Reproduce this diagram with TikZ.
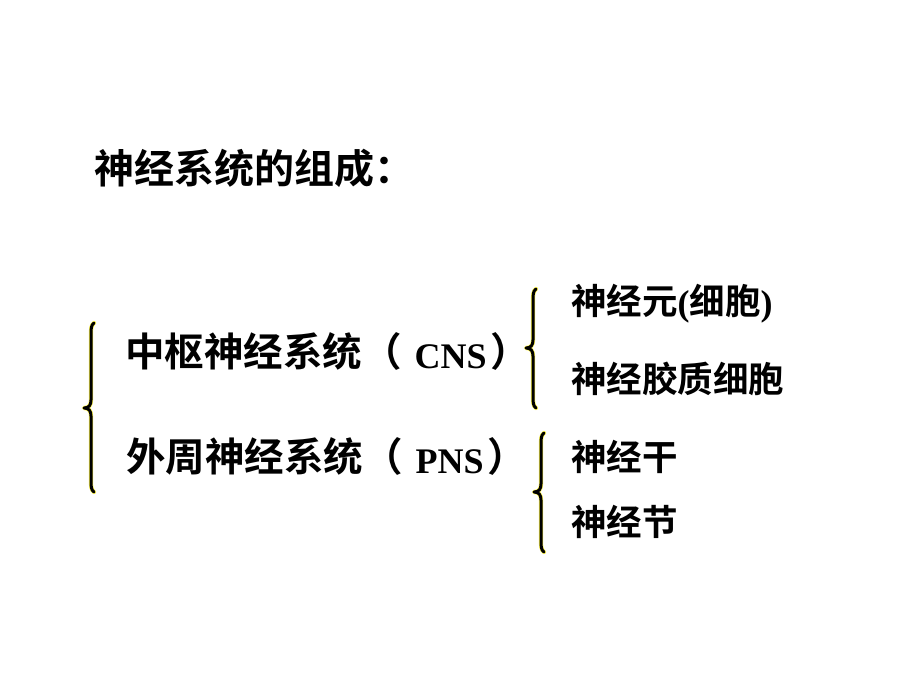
\documentclass[tikz,border=0pt]{standalone}
\usepackage{fontspec}
\setmainfont{Liberation Serif}
\newfontfamily\cjk{Noto Sans CJK SC}[BoldFont={* Bold}]
\newcommand{\lat}[1]{\hspace{13pt}\raisebox{-2pt}{\rmfamily\bfseries\fontsize{36}{38}\selectfont #1}\hspace{4pt}}
\newcommand{\slat}[1]{\raisebox{-1pt}{\rmfamily\bfseries\fontsize{36}{38}\selectfont #1}}
\tikzset{
  ttl/.style={anchor=west, inner sep=0pt, font=\cjk\bfseries\fontsize{40}{42}\selectfont},
  lbl/.style={anchor=west, inner sep=0pt, font=\cjk\bfseries\fontsize{39.5}{41}\selectfont},
  sublbl/.style={anchor=west, inner sep=0pt, font=\cjk\bfseries\fontsize{35.5}{37}\selectfont},
  bracestroke/.style={line width=3pt, line cap=round, line join=round},
  braceglow/.style={line width=4.2pt, draw=yellow!70!white, line cap=round, line join=round}
}
\newcommand{\mybrace}[4]{% x, top, bottom, middle
  \draw[braceglow] (#1+3,#2) .. controls (#1,#2+2) and (#1,#2+6) .. (#1,#2+12)
    -- (#1,#4-8) .. controls (#1,#4-3) and (#1-2,#4) .. (#1-7,#4)
    .. controls (#1-2,#4) and (#1,#4+3) .. (#1,#4+8)
    -- (#1,#3-12) .. controls (#1,#3-6) and (#1,#3-2) .. (#1+3,#3);
  \draw[bracestroke] (#1+3,#2) .. controls (#1,#2+2) and (#1,#2+6) .. (#1,#2+12)
    -- (#1,#4-8) .. controls (#1,#4-3) and (#1-2,#4) .. (#1-7,#4)
    .. controls (#1-2,#4) and (#1,#4+3) .. (#1,#4+8)
    -- (#1,#3-12) .. controls (#1,#3-6) and (#1,#3-2) .. (#1+3,#3);
}
\begin{document}
\begin{tikzpicture}[x=1pt,y=-1pt]
\useasboundingbox[fill=white] (0,0) rectangle (920,690);
\node[ttl] (title) at (94,168) {神经系统的组成：};
\node[lbl] (cns) at (125,351) {中枢神经系统（\lat{CNS}）};
\node[lbl] (pns) at (126,456) {外周神经系统（\lat{PNS}）};
\node[sublbl] (neuron) at (571,304) {神经元\slat{(}细胞\slat{)}};
\node[sublbl] (glia) at (571,379) {神经胶质细胞};
\node[sublbl] (trunk) at (571,457) {神经干};
\node[sublbl] (ganglion) at (571,522) {神经节};
\mybrace{91}{323}{492}{408}
\mybrace{533}{289}{408}{348}
\mybrace{541}{433}{552}{492}
\end{tikzpicture}
\end{document}
